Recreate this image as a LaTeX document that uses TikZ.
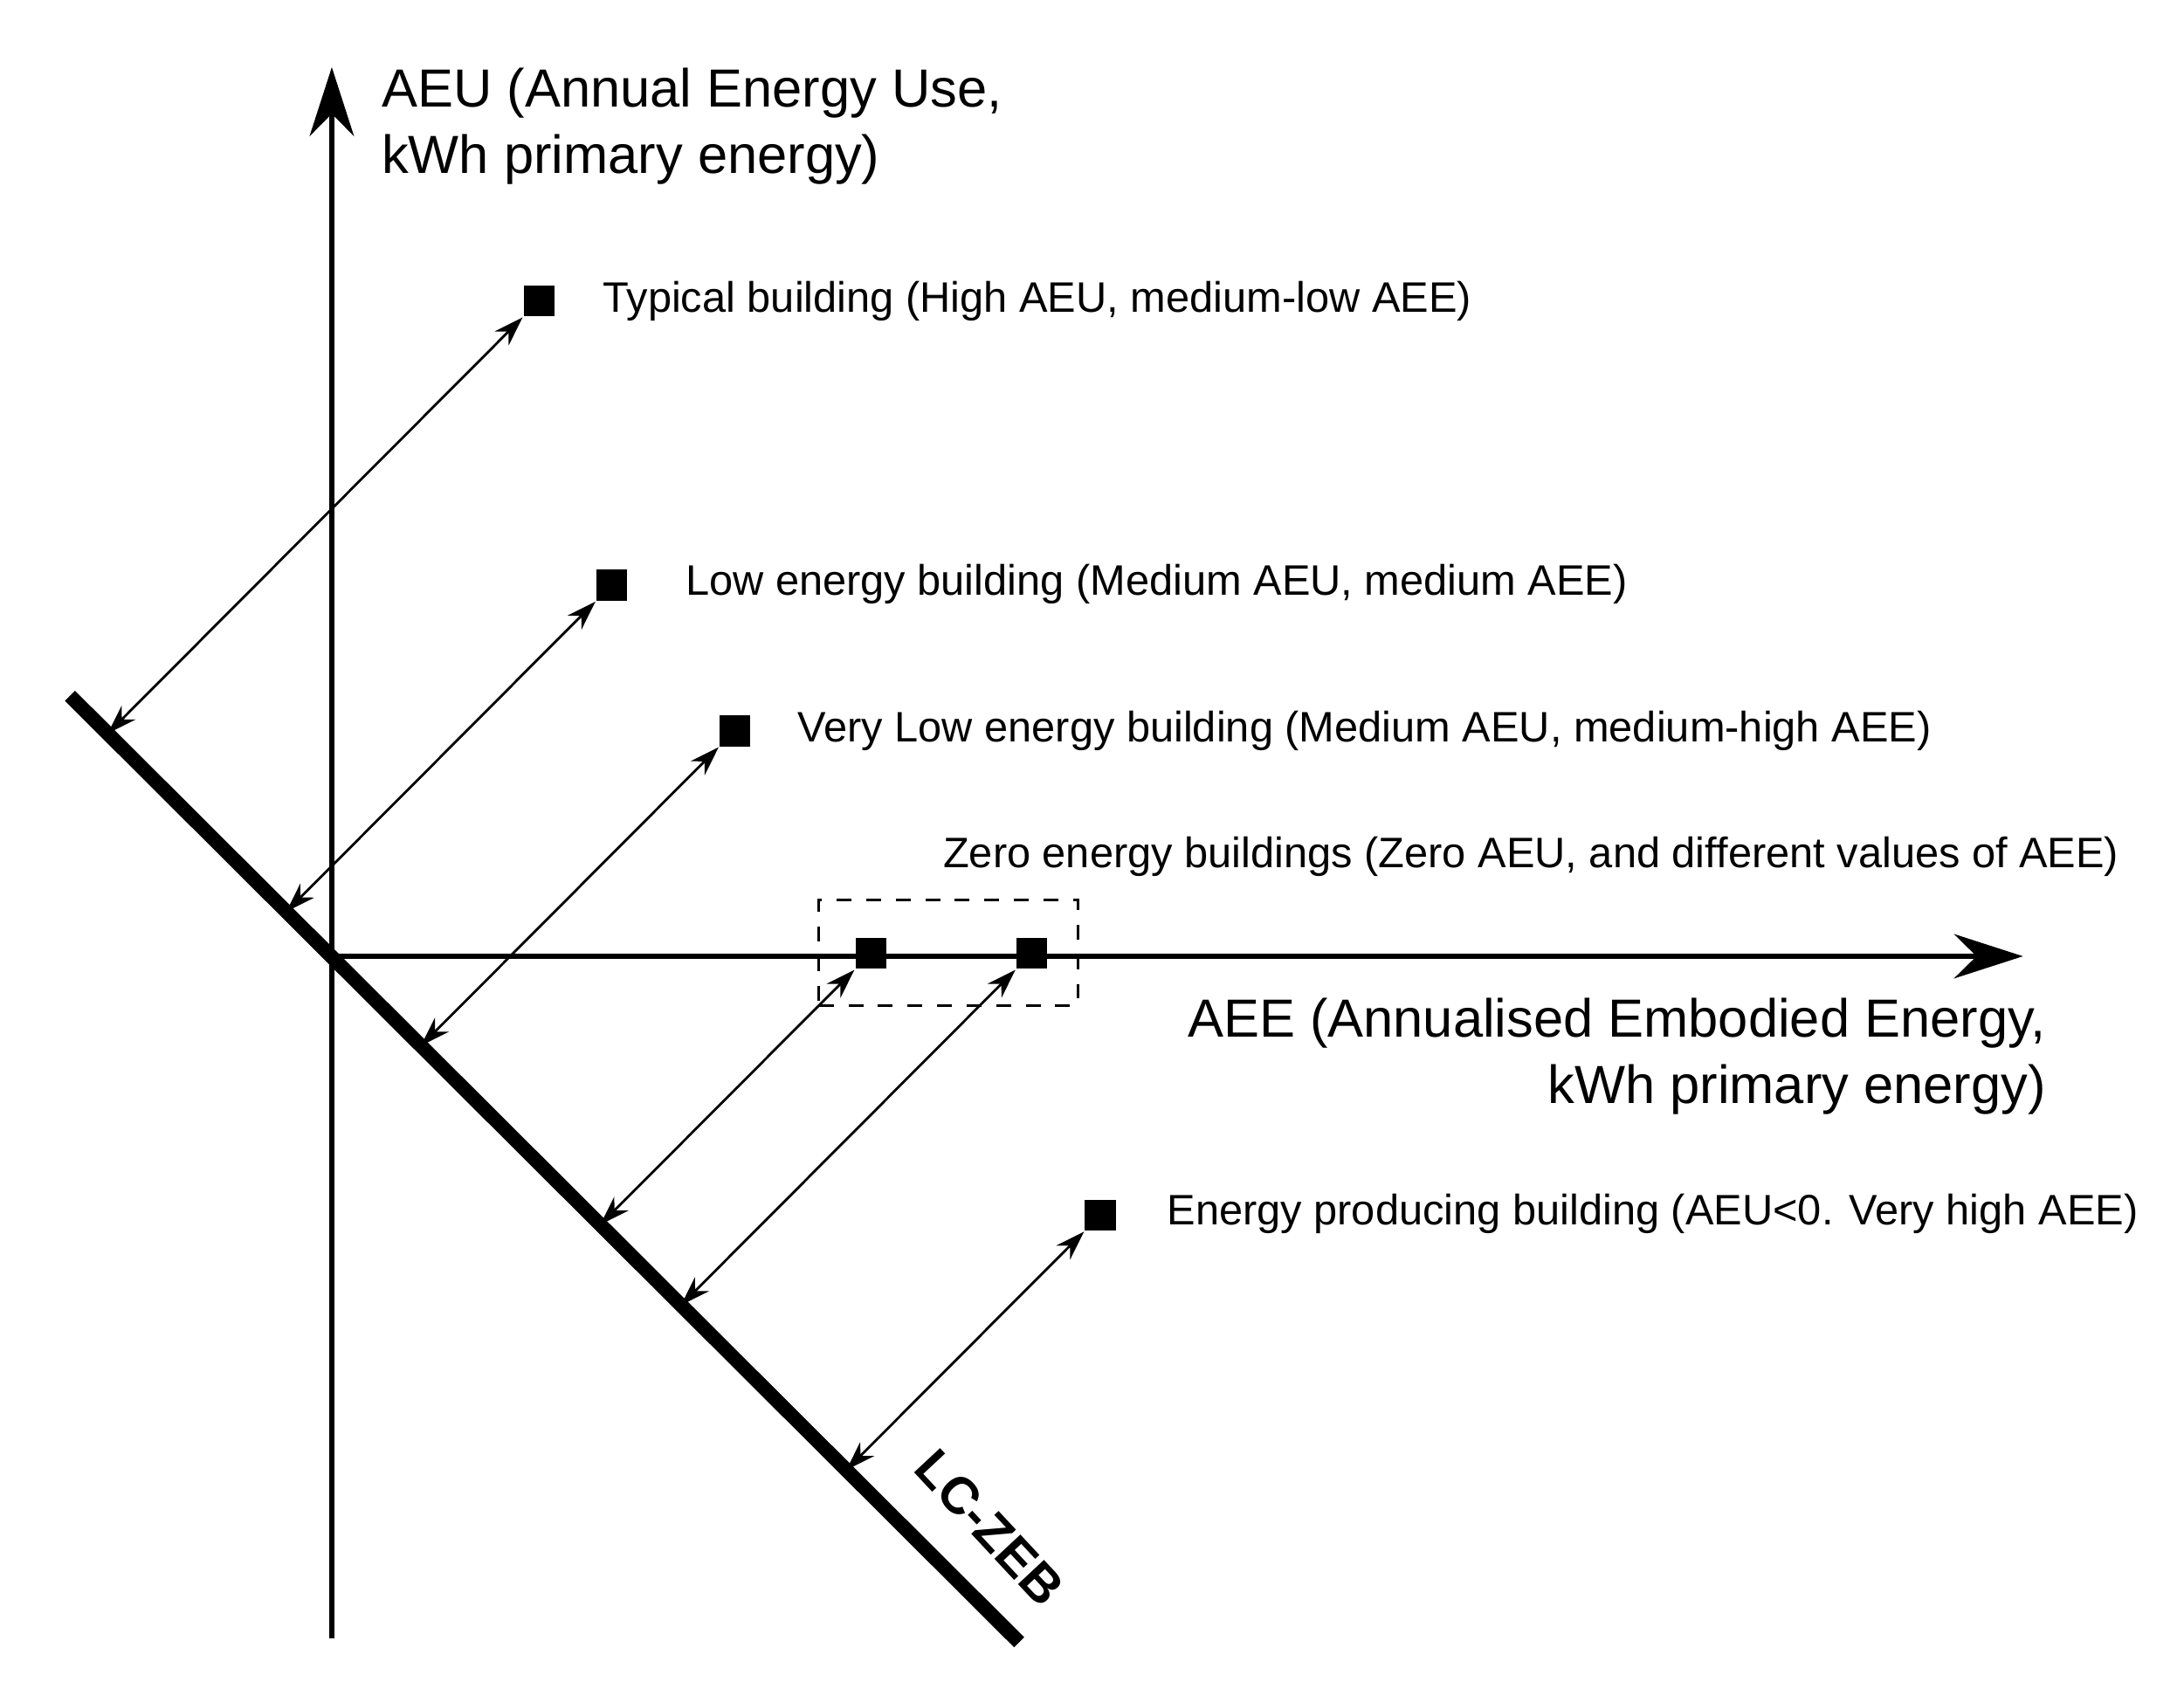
\documentclass[tikz,border=0pt]{standalone}
\usepackage{fontspec}
\setmainfont{Liberation Sans}
\usetikzlibrary{arrows.meta,calc}
\begin{document}
\begin{tikzpicture}[x=0.01cm,y=-0.01cm,
  sq/.style={fill=black,minimum size=0.22cm,inner sep=0pt},
  lbl/.style={anchor=west,font=\fontsize{8.65}{10}\selectfont,inner sep=0pt},
  axlbl/.style={font=\fontsize{10.9}{13.5}\selectfont,inner sep=0pt,align=left},
  dbl/.style={{Stealth[length=6pt,width=4pt]}-{Stealth[length=6pt,width=4pt]},line width=0.5pt},
  axis/.style={line width=0.9pt,-{Stealth[length=14pt,width=9pt]}}]
\useasboundingbox (0,0) rectangle (1560,1201);
\coordinate (O) at (237,683);
\coordinate (ybot) at (237,1170);
\coordinate (ytop) at (237,48);
\coordinate (xend) at (1445,683);
\coordinate (L1) at (50,497);
\coordinate (L2) at (728,1173);
\draw[axis] (ybot) -- (ytop);
\draw[axis] (O) -- (xend);
\draw[line width=2.9pt] (L1) -- (L2);
\node[sq] (s1) at (385,215) {};
\node[sq] (s2) at (437,418) {};
\node[sq] (s3) at (525,522) {};
\node[sq] (s4) at (622,681) {};
\node[sq] (s5) at (737,681) {};
\node[sq] (s6) at (786,868) {};
\foreach \s in {s1,s2,s3,s4,s5,s6}{
  \coordinate (f\s) at ($(L1)!(\s.south west)!(L2)$);
  \draw[dbl] (\s.south west) -- (f\s);
}
\node[draw,dashed,line width=0.5pt,minimum width=1.85cm,minimum height=0.75cm] (box) at (677.5,680.5) {};
\node[lbl] (t1) at (430,215) {Typical building (High AEU, medium-low AEE)};
\node[lbl] (t2) at (489,417) {Low energy building (Medium AEU, medium AEE)};
\node[lbl] (t3) at (569,522) {Very Low energy building (Medium AEU, medium-high AEE)};
\node[lbl] (t4) at (673,612) {Zero energy buildings (Zero AEU, and different values of AEE)};
\node[lbl] (t6) at (833,867) {Energy producing building (AEU<0. Very high AEE)};
\node[axlbl,anchor=north west] (aeu) at (272,48) {AEU (Annual Energy Use,\\kWh primary energy)};
\node[axlbl,anchor=north east,align=right] (aee) at (1462,712) {AEE (Annualised Embodied Energy,\\kWh primary energy)};
\node[font=\bfseries\fontsize{10.5}{13}\selectfont,rotate=-47,inner sep=0pt] (lc) at (707,1091) {LC-ZEB};
\end{tikzpicture}
\end{document}
